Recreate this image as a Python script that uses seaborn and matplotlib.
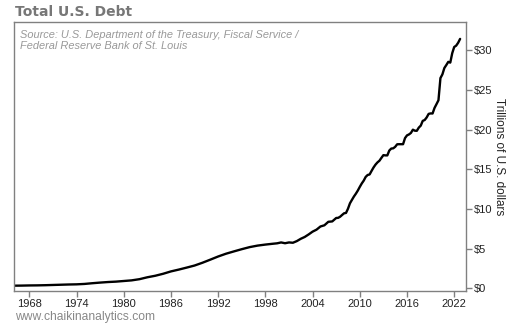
import matplotlib
matplotlib.use("Agg")
import matplotlib.pyplot as plt
import seaborn as sns
import pandas as pd

years = [1966, 1967, 1968, 1969, 1970, 1971, 1972, 1973, 1974, 1975,
         1976, 1977, 1978, 1979, 1980, 1981, 1982, 1983, 1984, 1985,
         1986, 1987, 1988, 1989, 1990, 1991, 1992, 1993, 1994, 1995,
         1996, 1997, 1998, 1999, 1999.5, 2000, 2000.5, 2001, 2001.5, 2002,
         2002.5, 2003, 2003.5, 2004, 2004.5, 2005, 2005.5, 2006, 2006.5,
         2007.0, 2007.25, 2007.5, 2007.75,
         2008.0, 2008.25, 2008.5, 2008.75,
         2009.0, 2009.25, 2009.5, 2009.75,
         2010.0, 2010.25, 2010.5, 2010.75,
         2011.0, 2011.25, 2011.5, 2011.75,
         2012.0, 2012.25, 2012.5, 2012.75,
         2013.0, 2013.25, 2013.5, 2013.75,
         2014.0, 2014.25, 2014.5, 2014.75,
         2015.0, 2015.25, 2015.5, 2015.75,
         2016.0, 2016.25, 2016.5, 2016.75,
         2017.0, 2017.25, 2017.5, 2017.75,
         2018.0, 2018.25, 2018.5, 2018.75,
         2019.0, 2019.25, 2019.5, 2019.75,
         2020.0, 2020.25, 2020.5, 2020.75,
         2021.0, 2021.25, 2021.5, 2021.75,
         2022.0, 2022.25, 2022.5, 2022.75]
debt = [0.32, 0.33, 0.35, 0.36, 0.38, 0.41, 0.44, 0.47, 0.49, 0.54,
        0.63, 0.71, 0.78, 0.83, 0.91, 0.99, 1.14, 1.38, 1.57, 1.82,
        2.12, 2.35, 2.60, 2.86, 3.21, 3.60, 4.00, 4.35, 4.64, 4.92,
        5.18, 5.37, 5.50, 5.61, 5.66, 5.77, 5.67, 5.77, 5.73, 5.94,
        6.23, 6.46, 6.78, 7.13, 7.38, 7.78, 7.93, 8.37, 8.42,
        8.85, 8.87, 9.01, 9.23,
        9.44, 9.49, 10.02, 10.70,
        11.13, 11.55, 11.91, 12.31,
        12.77, 13.20, 13.56, 14.03,
        14.27, 14.34, 14.79, 15.22,
        15.58, 15.86, 16.07, 16.43,
        16.77, 16.74, 16.74, 17.35,
        17.60, 17.63, 17.82, 18.14,
        18.15, 18.15, 18.15, 18.92,
        19.26, 19.38, 19.57, 19.98,
        19.85, 19.84, 20.24, 20.49,
        21.09, 21.20, 21.52, 21.97,
        22.03, 22.02, 22.72, 23.20,
        23.69, 26.48, 26.95, 27.75,
        28.13, 28.53, 28.43, 29.62,
        30.40, 30.57, 30.93, 31.42]
x_ticks = [1968, 1974, 1980, 1986, 1992, 1998, 2004, 2010, 2016, 2022]
y_ticks = [0, 5, 10, 15, 20, 25, 30]
y_tick_labels = ["$0", "$5", "$10", "$15", "$20", "$25", "$30"]

df = pd.DataFrame({"year": years, "debt": debt})

sns.set_theme(style="white")
plt.rcParams["font.family"] = ["Liberation Sans", "DejaVu Sans"]

fig = plt.figure(figsize=(5.1, 3.25), dpi=100)
ax = fig.add_axes([14 / 510, 1 - 291 / 325, (466 - 14) / 510, (291 - 22) / 325])

sns.lineplot(data=df, x="year", y="debt", ax=ax, color="black", linewidth=1.7)

ax.set_xlim(1966.05, 2023.5)
ax.set_ylim(-0.35, 33.55)
ax.set_xticks(x_ticks)
ax.set_xticklabels([str(t) for t in x_ticks])
ax.set_yticks(y_ticks)
ax.set_yticklabels(y_tick_labels)
ax.yaxis.tick_right()
ax.yaxis.set_label_position("right")
ax.tick_params(axis="both", which="both", length=4, width=1, color="#808080",
               labelsize=8, labelcolor="#222222", pad=2, direction="out")
ax.tick_params(axis="y", left=False, right=True)
ax.tick_params(axis="x", bottom=True)
for s in ax.spines.values():
    s.set_color("#808080")
    s.set_linewidth(1)
ax.set_xlabel("")
ax.set_ylabel("Trillions of U.S. dollars", rotation=270, labelpad=9,
              fontsize=8.5, color="#222222")

fig.text(15 / 510, 1 - 12 / 325, "Total U.S. Debt", fontsize=10,
         fontweight="bold", color="#777777", va="center", ha="left",
         family=["DejaVu Sans"])
ax.text(0.013, 0.97, "Source: U.S. Department of the Treasury, Fiscal Service /\nFederal Reserve Bank of St. Louis",
        transform=ax.transAxes, fontsize=7.9, style="italic", color="#999999",
        va="top", ha="left", linespacing=1.15)
fig.text(15 / 510, 1 - 317 / 325, "www.chaikinanalytics.com", fontsize=8.7,
         color="#888888", va="center", ha="left")

fig.savefig("out.png", dpi=100)
